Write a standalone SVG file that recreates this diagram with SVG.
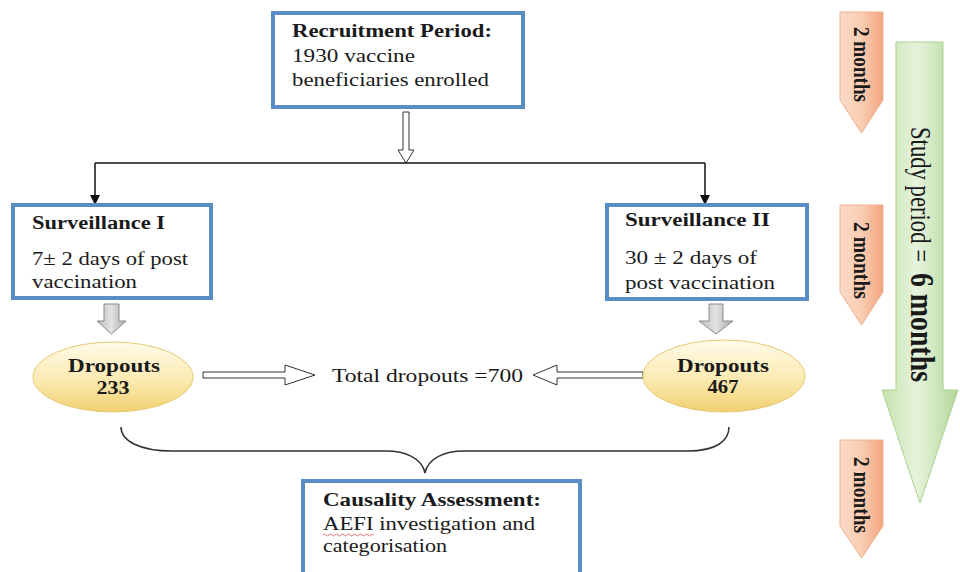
<svg xmlns="http://www.w3.org/2000/svg" width="960" height="572" viewBox="0 0 960 572">
<style>
text{font-family:"Liberation Serif","Times New Roman",serif;fill:#1a1a1a;}
.t{font-size:18px;}
.b{font-size:18px;font-weight:bold;}
.box{fill:#ffffff;stroke:#5a8cc6;stroke-width:4;}
.line{fill:none;stroke:#111;stroke-width:1.5;}
.hollow{fill:#ffffff;stroke:#333;stroke-width:1;}
.gray{fill:url(#gGray);stroke:#8a8a8a;stroke-width:1;}
.ell{fill:url(#gYel);stroke:#e6c870;stroke-width:1;}
.orange{fill:url(#gOr);stroke:#efb18f;stroke-width:1;}
.mo{font-size:17px;font-weight:bold;}
</style>
<defs>
<linearGradient id="gGray" x1="0" y1="0" x2="1" y2="0">
<stop offset="0" stop-color="#bdbdbd"/><stop offset="0.5" stop-color="#e2e2e2"/><stop offset="1" stop-color="#a8a8a8"/>
</linearGradient>
<linearGradient id="gYel" x1="0" y1="0" x2="0" y2="1">
<stop offset="0" stop-color="#fffbea"/><stop offset="0.55" stop-color="#fbeab0"/><stop offset="1" stop-color="#f2d070"/>
</linearGradient>
<linearGradient id="gOr" x1="0" y1="0" x2="1" y2="0">
<stop offset="0" stop-color="#fbdac8"/><stop offset="0.5" stop-color="#f9cdb2"/><stop offset="1" stop-color="#f2a47e"/>
</linearGradient>
<linearGradient id="gGr" x1="0" y1="0" x2="1" y2="0">
<stop offset="0" stop-color="#c4e2ad"/><stop offset="0.45" stop-color="#e6f3dc"/><stop offset="1" stop-color="#b3d89a"/>
</linearGradient>
<marker id="ah" viewBox="0 0 10 10" refX="9" refY="5" markerWidth="10" markerHeight="10" markerUnits="userSpaceOnUse" orient="auto">
<path d="M0,0 L10,5 L0,10 z" fill="#111"/>
</marker>
</defs>

<g id="connectors">
<polygon class="hollow" points="403,112 409,112 409,150 414,150 406,163 398,150 403,150"/>
<path class="line" d="M95,163 H705"/>
<path class="line" d="M95,163 V204" marker-end="url(#ah)"/>
<path class="line" d="M705,163 V204" marker-end="url(#ah)"/>
<polygon class="gray" points="104,304 119,304 119,321 126,321 111.5,334 97,321 104,321"/>
<polygon class="gray" points="709,304 723,304 723,321 733,321 716,334 699,321 709,321"/>
<polygon class="hollow" points="203,372 285,372 285,365 315,375 285,385 285,378 203,378"/>
<polygon class="hollow" points="643,372 557,372 557,365 533,375 557,385 557,378 643,378"/>
<path d="M121,427 C121,441 140,451 172,451 L386,451 C405,451 422,458 425,473 C428,458 445,451 464,451 L688,451 C716,451 729,441 729,427" fill="none" stroke="#333" stroke-width="1.5"/>
</g>

<g id="recruitment">
<rect class="box" x="273" y="13" width="250" height="94"/>
<text class="b" x="292" y="37" textLength="200" lengthAdjust="spacingAndGlyphs">Recruitment Period:</text>
<text class="t" x="292" y="62" textLength="123" lengthAdjust="spacingAndGlyphs">1930 vaccine</text>
<text class="t" x="292" y="86" textLength="197" lengthAdjust="spacingAndGlyphs">beneficiaries enrolled</text>
</g>

<g id="surveillance1">
<rect class="box" x="13" y="205" width="198" height="93"/>
<text class="b" x="32" y="229" textLength="133" lengthAdjust="spacingAndGlyphs">Surveillance I</text>
<text class="t" x="32" y="265" textLength="156" lengthAdjust="spacingAndGlyphs">7± 2 days of post</text>
<text class="t" x="32" y="288" textLength="105" lengthAdjust="spacingAndGlyphs">vaccination</text>
</g>

<g id="surveillance2">
<rect class="box" x="607" y="205" width="200" height="94"/>
<text class="b" x="625" y="226" textLength="145" lengthAdjust="spacingAndGlyphs">Surveillance II</text>
<text class="t" x="625" y="264" textLength="132" lengthAdjust="spacingAndGlyphs">30 ± 2 days of</text>
<text class="t" x="625" y="289" textLength="150" lengthAdjust="spacingAndGlyphs">post vaccination</text>
</g>

<g id="dropouts1">
<ellipse class="ell" cx="113" cy="377" rx="80" ry="35"/>
<text class="b" x="114" y="372" text-anchor="middle" textLength="92" lengthAdjust="spacingAndGlyphs">Dropouts</text>
<text class="b" x="113" y="394" text-anchor="middle" textLength="33" lengthAdjust="spacingAndGlyphs">233</text>
</g>

<g id="dropouts2">
<ellipse class="ell" cx="724" cy="376" rx="81" ry="36"/>
<text class="b" x="723" y="372" text-anchor="middle" textLength="92" lengthAdjust="spacingAndGlyphs">Dropouts</text>
<text class="b" x="723" y="393" text-anchor="middle" textLength="31" lengthAdjust="spacingAndGlyphs">467</text>
</g>

<g id="total">
<text class="t" x="332" y="382" textLength="191" lengthAdjust="spacingAndGlyphs">Total dropouts =700</text>
</g>

<g id="causality">
<rect class="box" x="303" y="481" width="277" height="110"/>
<text class="b" x="323" y="506" textLength="218" lengthAdjust="spacingAndGlyphs">Causality Assessment:</text>
<text class="t" x="323" y="530" textLength="212" lengthAdjust="spacingAndGlyphs">AEFI investigation and</text>
<path d="M323,535 q1.5,-2 3,0 t3,0 t3,0 t3,0 t3,0 t3,0 t3,0 t3,0 t3,0 t3,0 t3,0 t3,0 t3,0 t3,0 t3,0 t3,0 t3,0" fill="none" stroke="#e05050" stroke-width="0.8"/>
<text class="t" x="323" y="552" textLength="124" lengthAdjust="spacingAndGlyphs">categorisation</text>
</g>

<g id="month1">
<polygon class="orange" points="840,12 883,12 883,100 861.5,133 840,100"/>
<text class="mo" transform="translate(861.5,27) scale(1.3,1) rotate(90)" x="0" y="5.5" textLength="75" lengthAdjust="spacingAndGlyphs">2 months</text>
</g>

<g id="month2">
<polygon class="orange" points="840,205 883,205 883,292 861.5,325 840,292"/>
<text class="mo" transform="translate(861.5,222) scale(1.3,1) rotate(90)" x="0" y="5.5" textLength="77" lengthAdjust="spacingAndGlyphs">2 months</text>
</g>

<g id="month3">
<polygon class="orange" points="840,440 883,440 883,526 861.5,558 840,526"/>
<text class="mo" transform="translate(861.5,457) scale(1.3,1) rotate(90)" x="0" y="5.5" textLength="76" lengthAdjust="spacingAndGlyphs">2 months</text>
</g>

<g id="study-period">
<polygon points="896,42 943,42 943,390 958,390 920,503 882,390 896,390" fill="url(#gGr)" stroke="#a9d190" stroke-width="1"/>
<text transform="translate(920,127) scale(1.3,1) rotate(90)" x="0" y="7" style="font-size:22px" textLength="135" lengthAdjust="spacingAndGlyphs">Study period =</text>
<text transform="translate(920,273) scale(1.3,1) rotate(90)" x="0" y="7" style="font-size:26px;font-weight:bold" textLength="109" lengthAdjust="spacingAndGlyphs">6 months</text>
</g>
</svg>
